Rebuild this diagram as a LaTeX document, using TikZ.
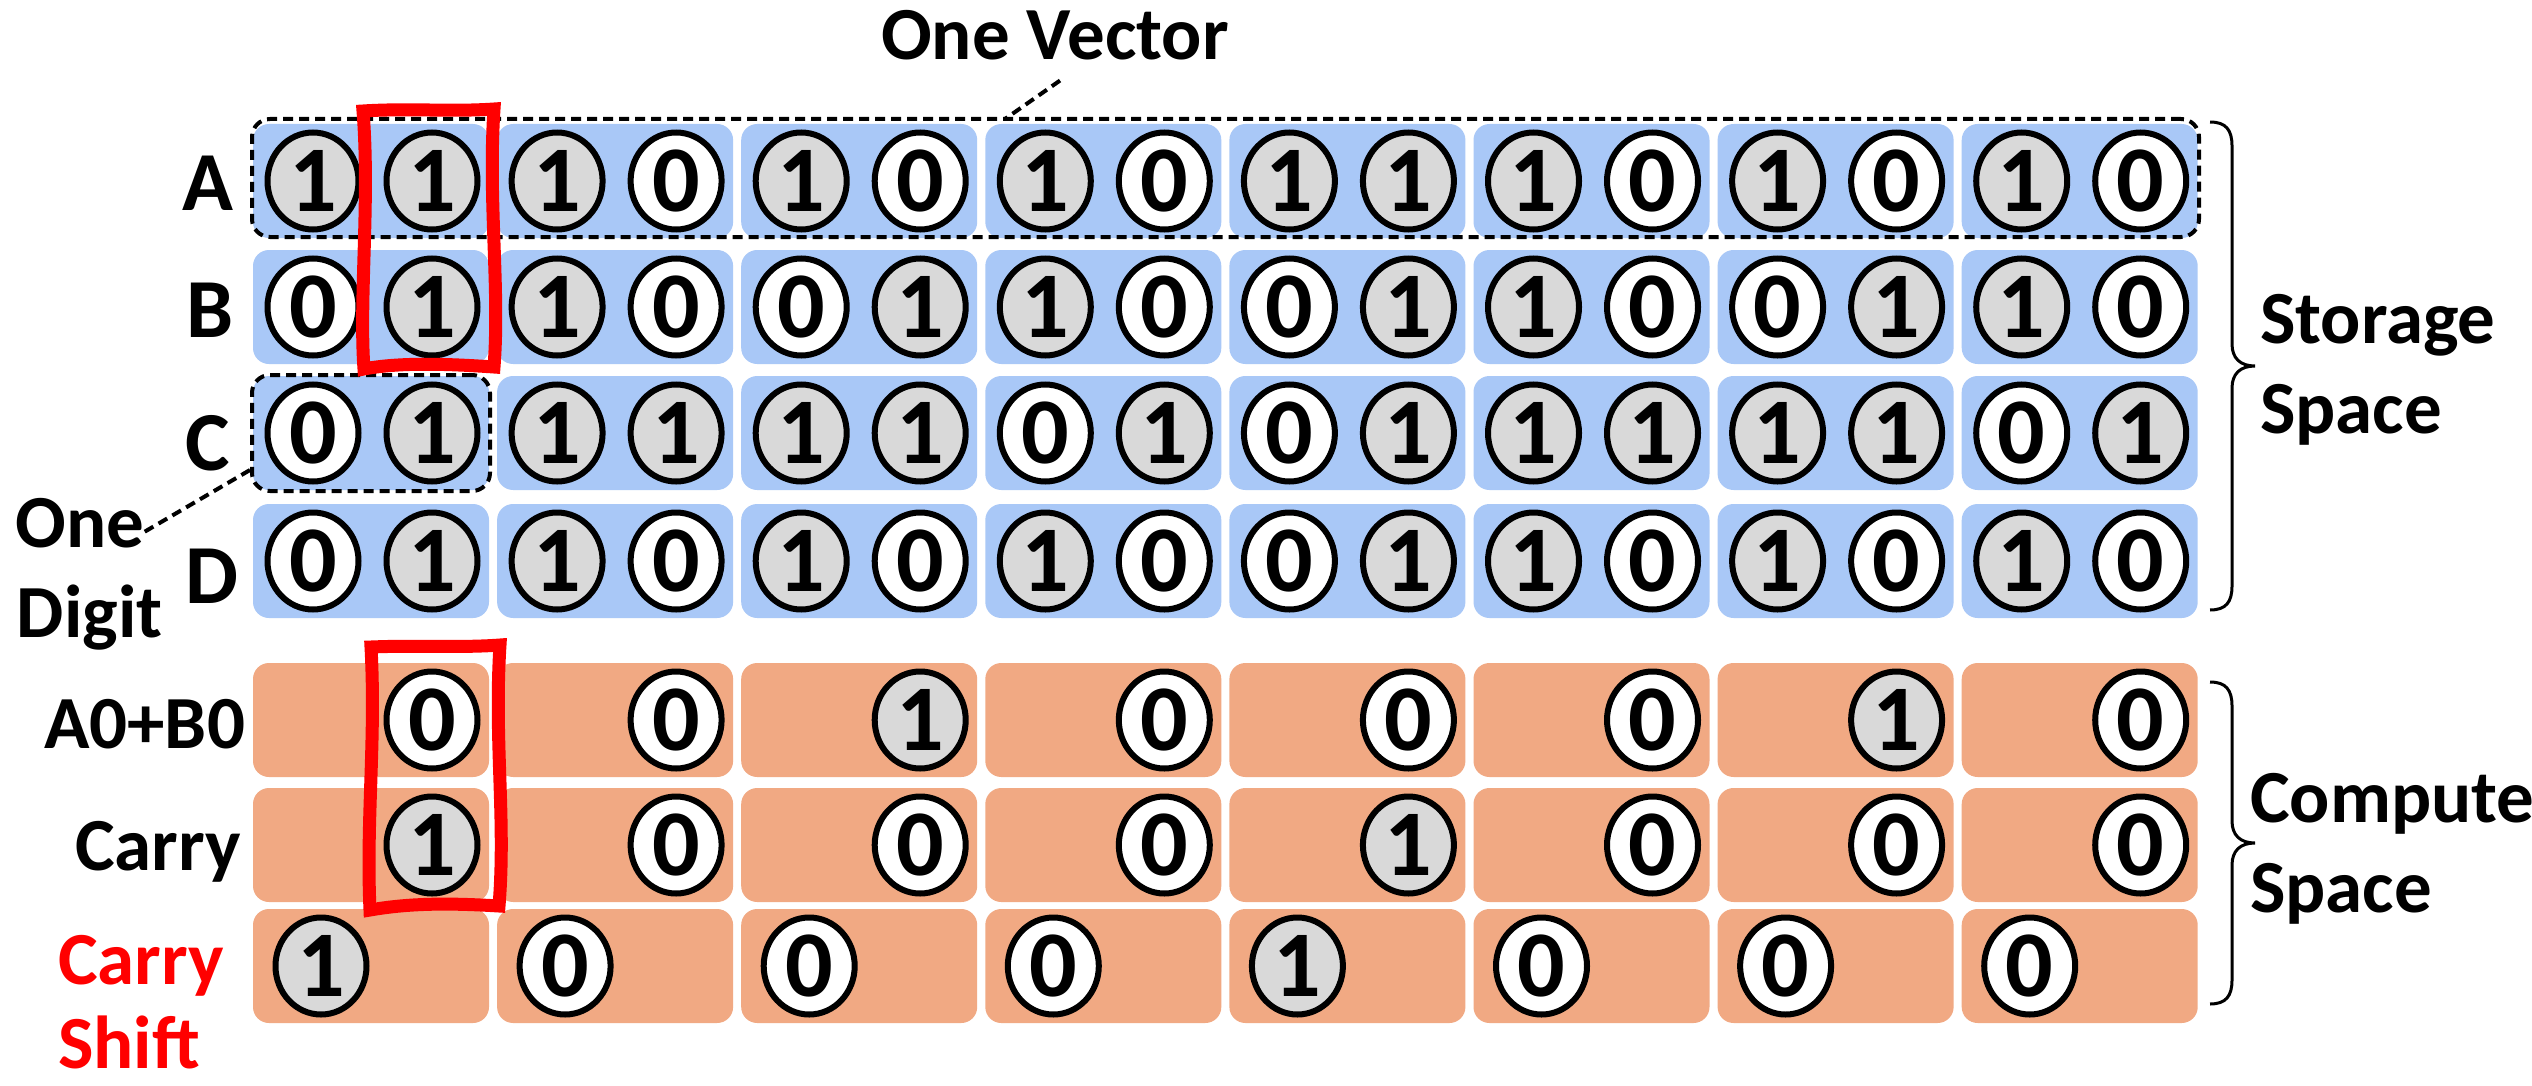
\documentclass[tikz,border=0pt]{standalone}
\usepackage{fontspec}
\setmainfont{Carlito}
\usetikzlibrary{shapes.geometric}

\definecolor{storeblue}{HTML}{A9C8F7}
\definecolor{computeorange}{HTML}{F1A983}
\definecolor{bitgray}{HTML}{D9D9D9}
\definecolor{markred}{HTML}{FF0000}

\newcommand\bitfont{\bfseries\fontsize{47pt}{52pt}\selectfont}
\newcommand\rowfont{\bfseries\fontsize{42pt}{48pt}\selectfont}
\newcommand\labelfont{\bfseries\fontsize{37.5pt}{45pt}\selectfont}

\tikzset{
  block/.style={rectangle, rounded corners=8pt, minimum width=118pt,
    minimum height=57pt, inner sep=0pt, outer sep=0pt},
  storeblock/.style={block, fill=storeblue},
  computeblock/.style={block, fill=computeorange},
  bit/.style={ellipse, draw=black, line width=3pt, minimum width=45.5pt,
    minimum height=48.5pt, inner sep=0pt, font=\bitfont},
  bit0/.style={bit, fill=white},
  bit1/.style={bit, fill=bitgray},
  groupbox/.style={rectangle, draw=black, line width=2pt,
    dash pattern=on 5pt off 3pt, rounded corners=9pt, inner sep=0pt},
  leader/.style={draw=black, line width=2pt, dash pattern=on 5pt off 3pt},
  bracepath/.style={draw=black, line width=1.5pt},
  redmark/.style={draw=markred, line width=6.5pt, line join=miter},
  txt/.style={inner sep=0pt, outer sep=0pt, font=\labelfont},
}

% one storage row: name, centre y, list of column/first bit/second bit
\newcommand\storagerow[3]{%
  \foreach \c/\p/\q in {#3}{
    \node[storeblock] (#1blk\c) at ({371+244.1*\c},#2) {};
    \node[bit\p] (#1bit\c-a) at ({313+244.1*\c},#2) {\p};
    \node[bit\q] (#1bit\c-b) at ({432+244.1*\c},#2) {\q};
  }}

% one compute row: name, centre y, bit offset from block edge, list of column/bit
\newcommand\computerow[4]{%
  \foreach \c/\p in {#4}{
    \node[computeblock] (#1blk\c) at ({371+244.1*\c},#2) {};
    \node[bit\p] (#1bit\c) at ({253+#3+244.1*\c},#2) {\p};
  }}

\begin{document}
\begin{tikzpicture}[x=0.5pt,y=-0.5pt]
\useasboundingbox (0,0) rectangle (2532,1086);
\fill[white] (0,0) rectangle (2532,1086);

% storage space
\storagerow{A}{181}{0/1/1,1/1/0,2/1/0,3/1/0,4/1/1,5/1/0,6/1/0,7/1/0}
\storagerow{B}{307}{0/0/1,1/1/0,2/0/1,3/1/0,4/0/1,5/1/0,6/0/1,7/1/0}
\storagerow{C}{433}{0/0/1,1/1/1,2/1/1,3/0/1,4/0/1,5/1/1,6/1/1,7/0/1}
\storagerow{D}{561}{0/0/1,1/1/0,2/1/0,3/1/0,4/0/1,5/1/0,6/1/0,7/1/0}

% compute space
\computerow{S}{720}{179}{0/0,1/0,2/1,3/0,4/0,5/0,6/1,7/0}
\computerow{K}{845}{179}{0/1,1/0,2/0,3/0,4/1,5/0,6/0,7/0}
\computerow{H}{966}{68}{0/1,1/0,2/0,3/0,4/1,5/0,6/0,7/0}

% row labels
\node[txt, font=\rowfont, anchor=base] (labA) at (208,210) {A};
\node[txt, font=\rowfont, anchor=base] (labB) at (210,337) {B};
\node[txt, font=\rowfont, anchor=base] (labC) at (208,470) {C};
\node[txt, font=\rowfont, anchor=base] (labD) at (212,603) {D};
\node[txt, anchor=base east] (labsum) at (245,748) {A0+B0};
\node[txt, anchor=base east] (labcarry) at (241,870) {Carry};
\node[txt, anchor=base west, text=markred] (labshift1) at (58,984) {Carry};
\node[txt, anchor=base west, text=markred] (labshift2) at (58,1068) {Shift};

% vector and digit outlines
\node[groupbox, minimum width=973.5pt, minimum height=59pt] (vector) at (1225.5,178) {};
\node[groupbox, minimum width=119pt, minimum height=58pt] (digit) at (371,433) {};

\node[txt, anchor=base] (onevec) at (1055,60) {One Vector};
\coordinate (vechead) at (1005,119);
\draw[leader] ([shift={(5,20)}]onevec.south) -- (vechead);

\node[txt, anchor=base west] (onedig1) at (16,547) {One};
\node[txt, anchor=base west] (onedig2) at (17,637) {Digit};
\draw[leader] ([yshift=-18.5pt]digit.west) -- ([yshift=-4.5pt]onedig1.east);

% braces
\coordinate (sbtop) at (2210,122);
\coordinate (sbtip) at (2255,366);
\coordinate (sbbot) at (2210,610);
\draw[bracepath] (sbtop) .. controls (2226,122) and (2232,130) .. (2232,146)
  -- (2232,344) .. controls (2232,358) and (2240,366) .. (sbtip)
  .. controls (2240,366) and (2232,374) .. (2232,388)
  -- (2232,586) .. controls (2232,602) and (2226,610) .. (sbbot);
\node[txt, anchor=base west] (store1) at (2260,343) {Storage};
\node[txt, anchor=base west] (store2) at (2260,433) {Space};

\coordinate (cbtop) at (2210,682);
\coordinate (cbtip) at (2255,843);
\coordinate (cbbot) at (2210,1004);
\draw[bracepath] (cbtop) .. controls (2226,682) and (2232,690) .. (2232,706)
  -- (2232,821) .. controls (2232,835) and (2240,843) .. (cbtip)
  .. controls (2240,843) and (2232,851) .. (2232,865)
  -- (2232,980) .. controls (2232,996) and (2226,1004) .. (cbbot);
\node[txt, anchor=base west] (comp1) at (2250,822) {Compute};
\node[txt, anchor=base west] (comp2) at (2250,912) {Space};

% hand-drawn red marks around the first carry step
\draw[redmark] (363,111) .. controls (410,108) and (450,112) .. (494,109)
  .. controls (488,200) and (500,290) .. (494,367)
  .. controls (450,364) and (400,362) .. (364,369)
  .. controls (359,300) and (370,200) .. cycle;
\draw[redmark] (371,647) .. controls (420,645) and (460,648) .. (500,645)
  .. controls (494,740) and (506,820) .. (499,906)
  .. controls (450,903) and (410,903) .. (370,910)
  .. controls (366,820) and (376,740) .. cycle;
\end{tikzpicture}
\end{document}
